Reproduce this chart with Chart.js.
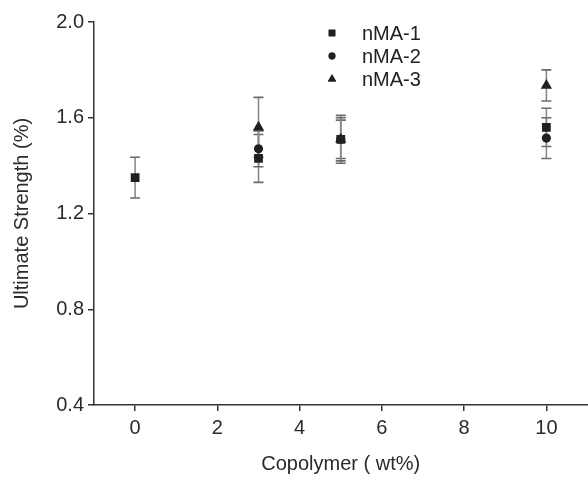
<!DOCTYPE html>
<html>
<head>
<meta charset="utf-8">
<script src="https://cdn.jsdelivr.net/npm/chart.js@4/dist/chart.umd.min.js"></script>
<style>
  html, body { margin: 0; padding: 0; background: #fff; overflow: hidden; }
  /* the plot runs off the right edge of the figure, so the canvas is a bit wider than the view */
  #wrap { width: 588px; height: 480px; overflow: hidden; }
</style>
</head>
<body>
<div id="wrap"><canvas id="chart" width="594" height="480"></canvas></div>
<script>
// Ultimate strength vs copolymer content
const seriesNames = ['nMA-1', 'nMA-2', 'nMA-3'];
const xCopolymer1 = [0, 3, 5, 10];
const strength1 = [1.35, 1.43, 1.51, 1.56];
const error1 = [0.085, 0.10, 0.10, 0.08];
const xCopolymer2 = [3, 5, 10];
const strength2 = [1.47, 1.51, 1.515];
const error2 = [0.075, 0.08, 0.085];
const xCopolymer3 = [3, 5, 10];
const strength3 = [1.56, 1.51, 1.735];
const error3 = [0.125, 0.09, 0.065];
const xTicks = [0, 2, 4, 6, 8, 10];
const yTicks = [0.4, 0.8, 1.2, 1.6, 2.0];

const ink = '#231f20';
const font = "'Liberation Sans', Arial, sans-serif";

function pts(xs, ys, es) {
    return xs.map((x, i) => ({ x: x, y: ys[i], err: es[i] }));
}

// vertical error bars with caps, drawn under the markers
const errorBars = {
    id: 'errorBars',
    beforeDatasetsDraw(chart) {
        const ctx = chart.ctx;
        const xs = chart.scales.x, ys = chart.scales.y;
        ctx.save();
        chart.data.datasets.forEach(ds => {
            ds.data.forEach(p => {
                const px = xs.getPixelForValue(p.x);
                const top = ys.getPixelForValue(p.y + p.err);
                const bot = ys.getPixelForValue(p.y - p.err);
                ctx.strokeStyle = '#8a8a8a';
                ctx.lineWidth = 1.6;
                ctx.beginPath();
                ctx.moveTo(px, top);
                ctx.lineTo(px, bot);
                ctx.stroke();
                ctx.strokeStyle = '#6a6a6a';
                ctx.beginPath();
                ctx.moveTo(px - 5, top); ctx.lineTo(px + 5, top);
                ctx.moveTo(px - 5, bot); ctx.lineTo(px + 5, bot);
                ctx.stroke();
            });
        });
        ctx.restore();
    }
};

// legend in the upper middle of the plot
const insetLegend = {
    id: 'insetLegend',
    afterDraw(chart) {
        const ctx = chart.ctx;
        ctx.save();
        ctx.font = '20px ' + font;
        ctx.textBaseline = 'middle';
        chart.data.datasets.forEach((ds, i) => {
            const y = 33 + i * 23;
            Chart.helpers.drawPoint(ctx, {
                pointStyle: ds.pointStyle, radius: ds.pointRadius * 0.75, rotation: 0, borderWidth: 0
            }, 332, y);
            ctx.fillStyle = ink;
            ctx.fill();
            ctx.fillStyle = '#222';
            ctx.fillText(seriesNames[i], 362, y + 1);
        });
        ctx.restore();
    }
};

new Chart(document.getElementById('chart'), {
    type: 'scatter',
    data: {
        datasets: [
            { label: seriesNames[0], data: pts(xCopolymer1, strength1, error1), pointStyle: 'rect', pointRadius: 6.2 },
            { label: seriesNames[1], data: pts(xCopolymer2, strength2, error2), pointStyle: 'circle', pointRadius: 4.6 },
            { label: seriesNames[2], data: pts(xCopolymer3, strength3, error3), pointStyle: 'triangle', pointRadius: 6.5 }
        ].map(ds => Object.assign(ds, {
            backgroundColor: ink, borderColor: ink, borderWidth: 0, pointHoverRadius: ds.pointRadius
        }))
    },
    options: {
        responsive: false,
        animation: false,
        layout: { padding: { top: 22, right: 0, left: 0, bottom: 0 } },
        plugins: { legend: { display: false }, tooltip: { enabled: false } },
        scales: {
            x: {
                type: 'linear', min: -1, max: 11,
                afterBuildTicks: s => { s.ticks = xTicks.map(v => ({ value: v })); },
                afterFit: s => { s.height = 75; },
                border: { display: true, color: '#333', width: 1.5 },
                grid: { drawOnChartArea: false, drawTicks: true, tickLength: 6, color: '#333', lineWidth: 1.5 },
                ticks: { color: '#2a2a2a', font: { family: font, size: 20 }, padding: 5, maxRotation: 0 },
                title: { display: true, text: 'Copolymer ( wt%)', color: '#2a2a2a', font: { family: font, size: 20 }, padding: { top: 4 } }
            },
            y: {
                type: 'linear', min: 0.4, max: 2.0,
                afterBuildTicks: s => { s.ticks = yTicks.map(v => ({ value: v })); },
                afterFit: s => { s.width = 94; },
                border: { display: true, color: '#333', width: 1.5 },
                grid: { drawOnChartArea: false, drawTicks: true, tickLength: 6, color: '#333', lineWidth: 1.5 },
                ticks: { color: '#2a2a2a', font: { family: font, size: 20 }, padding: 4, callback: v => v.toFixed(1) },
                title: { display: true, text: 'Ultimate Strength (%)', color: '#2a2a2a', font: { family: font, size: 20 }, padding: { top: 10, bottom: 0 } }
            }
        }
    },
    plugins: [errorBars, insetLegend]
});
</script>
</body>
</html>
